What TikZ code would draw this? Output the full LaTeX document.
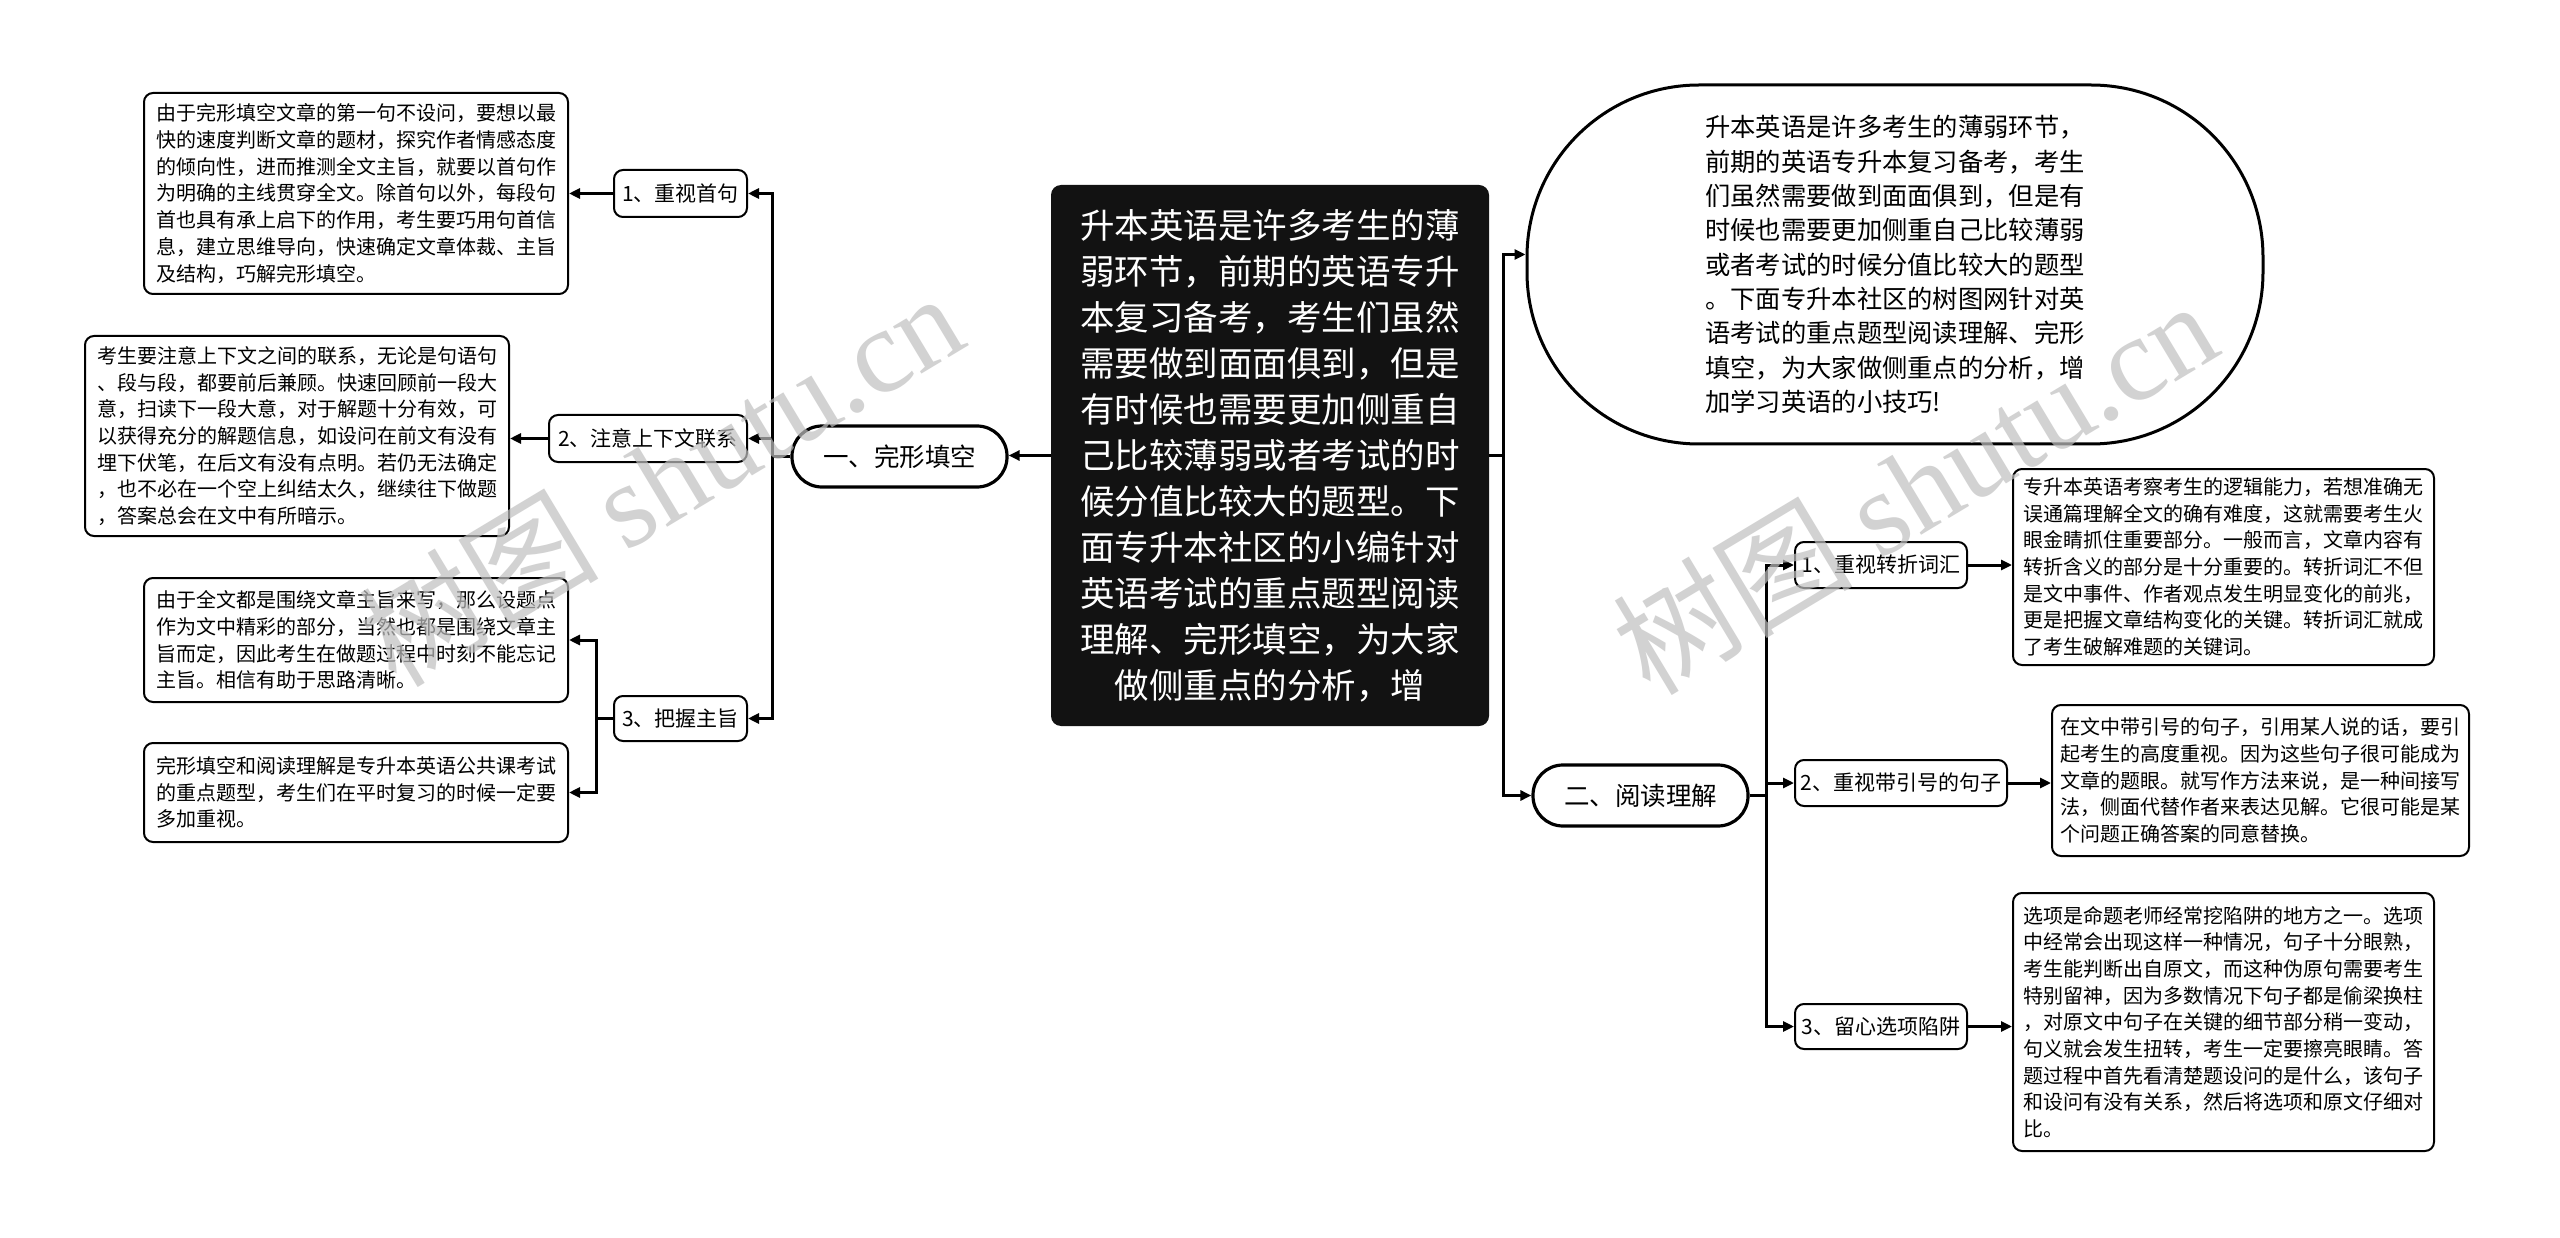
\documentclass[tikz,border=0pt]{standalone}
\usepackage{fontspec}
\setmainfont{Noto Sans CJK SC}
\newfontfamily\wmserif{Liberation Serif}
\usetikzlibrary{arrows.meta,calc}
\tikzset{
  conn/.style={line width=3pt, draw=black},
  arr/.style={conn, -{Triangle[length=11pt,width=10pt]}},
  leaf/.style={draw, line width=2pt, rounded corners=9pt, fill=white, align=left,
    font=\fontsize{20}{26.7}\selectfont, inner sep=0pt},
  lab/.style={draw, line width=2pt, rounded corners=9pt, fill=white,
    font=\fontsize{21}{26}\selectfont, inner sep=0pt},
  topic/.style={draw, line width=3.2pt, rounded corners=30pt, fill=white,
    font=\fontsize{25.5}{30}\selectfont, inner sep=0pt},
  rootbox/.style={fill=black!93, rounded corners=10pt, text=white, align=center,
    font=\fontsize{34.5}{46}\selectfont, inner sep=0pt},
  oval/.style={draw, line width=3pt, rounded corners=172pt, fill=white, align=left,
    font=\fontsize{25.3}{34.3}\selectfont, inner sep=0pt},
  wm/.style={text=black!25, text opacity=0.7, font=\fontsize{120}{130}\selectfont, rotate=31, inner sep=0pt}
}
\begin{document}
\begin{tikzpicture}[x=1pt,y=-1pt]
\useasboundingbox[fill=white] (0,0) rectangle (2560,1238);

% root
\node[rootbox, minimum width=438pt, minimum height=541pt] (root) at (1270,455.5) {%
升本英语是许多考生的薄\\
弱环节，前期的英语专升\\
本复习备考，考生们虽然\\
需要做到面面俱到，但是\\
有时候也需要更加侧重自\\
己比较薄弱或者考试的时\\
候分值比较大的题型。下\\
面专升本社区的小编针对\\
英语考试的重点题型阅读\\
理解、完形填空，为大家\\
做侧重点的分析，增};

% right oval
\node[oval, minimum width=736pt, minimum height=359pt] (ell) at (1895,264.5) {%
升本英语是许多考生的薄弱环节，\\
前期的英语专升本复习备考，考生\\
们虽然需要做到面面俱到，但是有\\
时候也需要更加侧重自己比较薄弱\\
或者考试的时候分值比较大的题型\\
。下面专升本社区的树图网针对英\\
语考试的重点题型阅读理解、完形\\
填空，为大家做侧重点的分析，增\\
加学习英语的小技巧!};

% topics
\node[topic, minimum width=215pt, minimum height=61pt] (A) at (899.5,456.5) {一、完形填空};
\node[topic, minimum width=215pt, minimum height=61pt] (B) at (1640.5,795.5) {二、阅读理解};

% left labels
\node[lab, minimum width=133pt, minimum height=47pt] (a1) at (680.5,193.5) {1、重视首句};
\node[lab, minimum width=198pt, minimum height=47pt] (a2) at (648,438.5) {2、注意上下文联系};
\node[lab, minimum width=133pt, minimum height=45pt] (a3) at (680.5,718.5) {3、把握主旨};

% left leaves
\node[leaf, minimum width=424pt, minimum height=201pt] (l1) at (356,193.5) {%
由于完形填空文章的第一句不设问，要想以最\\
快的速度判断文章的题材，探究作者情感态度\\
的倾向性，进而推测全文主旨，就要以首句作\\
为明确的主线贯穿全文。除首句以外，每段句\\
首也具有承上启下的作用，考生要巧用句首信\\
息，建立思维导向，快速确定文章体裁、主旨\\
及结构，巧解完形填空。};
\node[leaf, minimum width=424pt, minimum height=200pt] (l2) at (297,436) {%
考生要注意上下文之间的联系，无论是句语句\\
、段与段，都要前后兼顾。快速回顾前一段大\\
意，扫读下一段大意，对于解题十分有效，可\\
以获得充分的解题信息，如设问在前文有没有\\
埋下伏笔，在后文有没有点明。若仍无法确定\\
，也不必在一个空上纠结太久，继续往下做题\\
，答案总会在文中有所暗示。};
\node[leaf, minimum width=424pt, minimum height=124pt] (l3a) at (356,640) {%
由于全文都是围绕文章主旨来写，那么设题点\\
作为文中精彩的部分，当然也都是围绕文章主\\
旨而定，因此考生在做题过程中时刻不能忘记\\
主旨。相信有助于思路清晰。};
\node[leaf, minimum width=424pt, minimum height=99pt] (l3b) at (356,792.5) {%
完形填空和阅读理解是专升本英语公共课考试\\
的重点题型，考生们在平时复习的时候一定要\\
多加重视。};

% right labels
\node[lab, minimum width=172pt, minimum height=46pt] (b1) at (1881,565) {1、重视转折词汇};
\node[lab, minimum width=212pt, minimum height=46pt] (b2) at (1901,783) {2、重视带引号的句子};
\node[lab, minimum width=172pt, minimum height=45pt] (b3) at (1881,1026.5) {3、留心选项陷阱};

% right leaves
\node[leaf, minimum width=421pt, minimum height=196pt] (r1) at (2223.5,567) {%
专升本英语考察考生的逻辑能力，若想准确无\\
误通篇理解全文的确有难度，这就需要考生火\\
眼金睛抓住重要部分。一般而言，文章内容有\\
转折含义的部分是十分重要的。转折词汇不但\\
是文中事件、作者观点发生明显变化的前兆，\\
更是把握文章结构变化的关键。转折词汇就成\\
了考生破解难题的关键词。};
\node[leaf, minimum width=417pt, minimum height=151pt] (r2) at (2260.5,780.5) {%
在文中带引号的句子，引用某人说的话，要引\\
起考生的高度重视。因为这些句子很可能成为\\
文章的题眼。就写作方法来说，是一种间接写\\
法，侧面代替作者来表达见解。它很可能是某\\
个问题正确答案的同意替换。};
\node[leaf, minimum width=421pt, minimum height=258pt] (r3) at (2223.5,1022) {%
选项是命题老师经常挖陷阱的地方之一。选项\\
中经常会出现这样一种情况，句子十分眼熟，\\
考生能判断出自原文，而这种伪原句需要考生\\
特别留神，因为多数情况下句子都是偷梁换柱\\
，对原文中句子在关键的细节部分稍一变动，\\
句义就会发生扭转，考生一定要擦亮眼睛。答\\
题过程中首先看清楚题设问的是什么，该句子\\
和设问有没有关系，然后将选项和原文仔细对\\
比。};

% connectors: left
\draw[arr] (root.west) -- (root.west -| A.east);
\coordinate (sA) at ($(A.west)+(-18,0)$);
\draw[conn] (A.west) -- (sA);
\draw[arr] (sA) |- (a1.east);
\draw[arr] (sA) |- (a2.east);
\draw[arr] (sA) |- (a3.east);
\draw[arr] (a1.west) -- (a1.west -| l1.east);
\draw[arr] (a2.west) -- (a2.west -| l2.east);
\coordinate (s3) at ($(a3.west)+(-17,0)$);
\draw[conn] (a3.west) -- (s3);
\draw[arr] (s3) |- (l3a.east);
\draw[arr] (s3) |- (l3b.east);

% connectors: right
\coordinate (s0) at ($(root.east)+(14,0)$);
\draw[conn] (root.east) -- (s0);
\draw[arr] (s0) |- ([yshift=10pt]ell.west);
\draw[arr] (s0) |- (B.west);
\coordinate (sB) at ($(B.east)+(17,0)$);
\draw[conn] (B.east) -- (sB);
\draw[arr] (sB) |- (b1.west);
\draw[arr] (sB) |- (b2.west);
\draw[arr] (sB) |- (b3.west);
\draw[arr] (b1.east) -- (b1.east -| r1.west);
\draw[arr] (b2.east) -- (b2.east -| r2.west);
\draw[arr] (b3.east) -- (b3.east -| r3.west);

% watermarks
\node[wm] (wm1) at (660,478) {树图 {\wmserif shutu.cn}};
\node[wm] (wm2) at (1914,486) {树图 {\wmserif shutu.cn}};
\end{tikzpicture}
\end{document}
